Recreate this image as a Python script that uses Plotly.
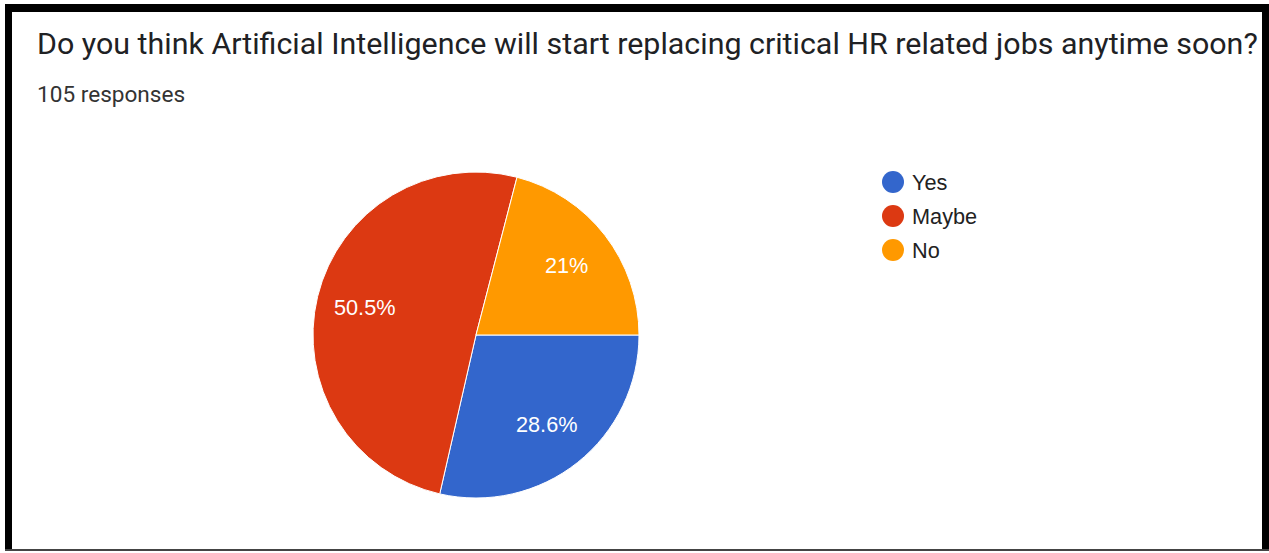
import math
import plotly.graph_objects as go

W, H = 1269, 553

# survey data (105 responses)
labels = ["Yes", "Maybe", "No"]
counts = [30, 53, 22]
colors = ["#3366cc", "#dc3912", "#ff9900"]

title_text = "Do you think Artificial Intelligence will start replacing critical HR related jobs anytime soon?"
total = sum(counts)
subtitle_text = f"{total} responses"

pct_text = [f"{round(c / total * 100, 1):g}%" for c in counts]

# pie geometry in pixels (centre + radius), like the google forms card
CX, CY, R = 476, 335, 163
START_DEG = 0  # first slice starts at 3 o'clock, goes clockwise
LABEL_R = 0.70  # google charts puts labels further out than plotly does

CHART_FONT = "Liberation Sans, Arial, sans-serif"
TITLE_FONT = "Roboto, Arial, sans-serif"


def px_x(x):
    return x / W


def px_y(y):
    return 1 - y / H


fig = go.Figure()

fig.add_trace(go.Pie(
    labels=labels,
    values=counts,
    textinfo="none",
    sort=False,
    direction="clockwise",
    rotation=90,
    marker=dict(colors=colors, line=dict(color="white", width=1)),
    domain=dict(x=[px_x(CX - R), px_x(CX + R)], y=[px_y(CY + R), px_y(CY - R)]),
    showlegend=False,
    hoverinfo="label+value+percent",
))

shapes = []
annotations = []

# slice labels, placed at the middle angle of each slice
cum = 0.0
for c, t in zip(counts, pct_text):
    frac = c / total
    theta = math.radians(START_DEG - 360 * (cum + frac / 2))
    lx = CX + LABEL_R * R * math.cos(theta)
    ly = CY - LABEL_R * R * math.sin(theta)
    cum += frac
    annotations.append(dict(
        x=px_x(lx), y=px_y(ly), xref="paper", yref="paper",
        text=t, showarrow=False, xanchor="center", yanchor="middle",
        font=dict(family=CHART_FONT, size=21.7, color="white"),
    ))

# custom legend with round markers
for i, (lab, col) in enumerate(zip(labels, colors)):
    cy = 182 + 34 * i
    shapes.append(dict(
        type="circle", xref="paper", yref="paper",
        xsizemode="pixel", ysizemode="pixel",
        xanchor=px_x(893), yanchor=px_y(cy),
        x0=-11, x1=11, y0=-11, y1=11,
        fillcolor=col, line=dict(width=0),
    ))
    annotations.append(dict(
        x=px_x(910), y=px_y(cy), xref="paper", yref="paper",
        text=lab, showarrow=False, xanchor="left", yanchor="middle",
        font=dict(family=CHART_FONT, size=21.7, color="#222222"),
    ))

annotations.append(dict(
    x=px_x(35), y=px_y(43), xref="paper", yref="paper",
    text=title_text, showarrow=False, xanchor="left", yanchor="middle",
    font=dict(family=TITLE_FONT, size=30.4, color="#202124"),
))
annotations.append(dict(
    x=px_x(35), y=px_y(94), xref="paper", yref="paper",
    text=subtitle_text, showarrow=False, xanchor="left", yanchor="middle",
    font=dict(family=TITLE_FONT, size=22.6, color="#333333"),
))

# black frame around the card
frame = "#000000"
shapes += [
    dict(type="rect", xref="paper", yref="paper", x0=px_x(5), x1=px_x(12), y0=px_y(551), y1=px_y(4),
         fillcolor=frame, line=dict(width=0)),
    dict(type="rect", xref="paper", yref="paper", x0=px_x(5), x1=px_x(1269), y0=px_y(12), y1=px_y(4),
         fillcolor=frame, line=dict(width=0)),
    dict(type="rect", xref="paper", yref="paper", x0=px_x(1262), x1=px_x(1269), y0=px_y(551), y1=px_y(4),
         fillcolor=frame, line=dict(width=0)),
    dict(type="rect", xref="paper", yref="paper", x0=px_x(5), x1=px_x(1269), y0=px_y(551), y1=px_y(549),
         fillcolor="#444444", line=dict(width=0)),
]

fig.update_layout(
    width=W, height=H,
    margin=dict(l=0, r=0, t=0, b=0),
    paper_bgcolor="white",
    plot_bgcolor="white",
    shapes=shapes,
    annotations=annotations,
)

# drop the browser's default body margin so the figure sits at 0,0
fig.write_html("out.html", config={"displayModeBar": False},
               post_script="document.body.style.margin='0';")
